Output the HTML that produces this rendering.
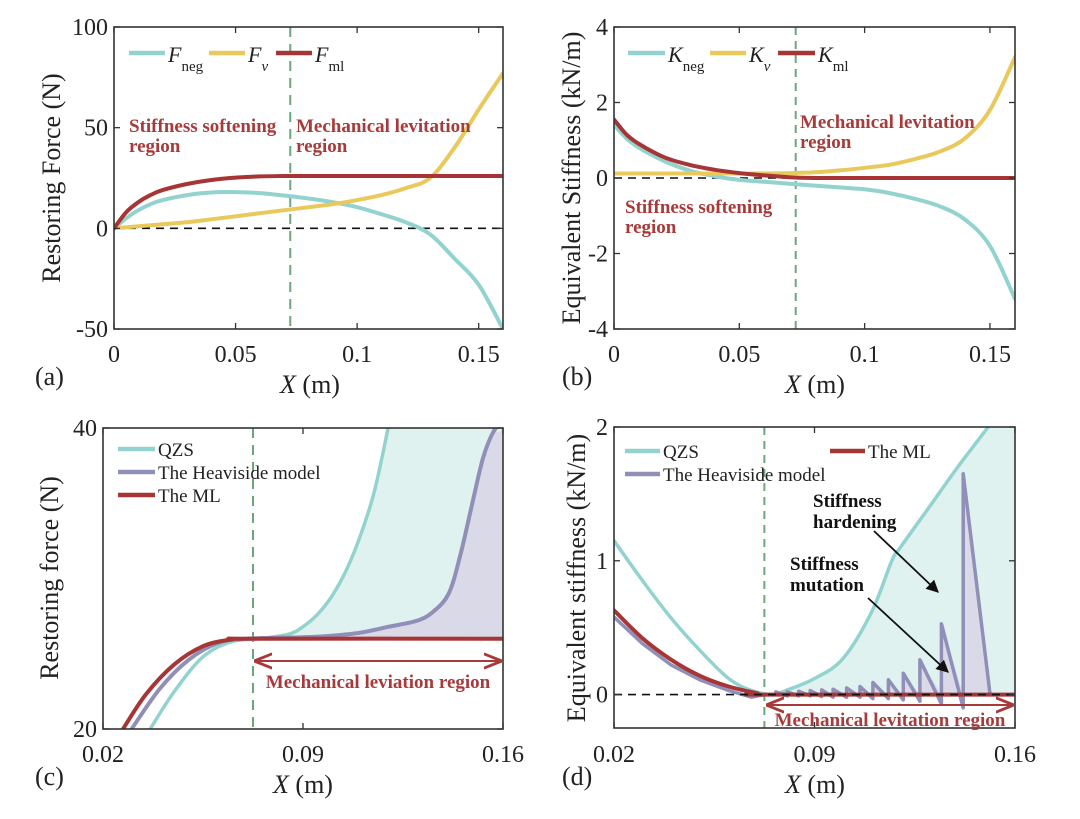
<!DOCTYPE html>
<html><head><meta charset="utf-8"><style>
html,body{margin:0;padding:0;background:#fff}
svg{display:block;font-family:"Liberation Serif",serif}
.t{font-size:24px;fill:#222}
.ti{font-size:26px;fill:#222}
.lg{font-size:19px;fill:#222}
.rg{font-size:19px;font-weight:bold;fill:#a83a3a}
.an{font-size:19px;font-weight:bold;fill:#111}
</style></head><body>
<svg id="fig" width="1080" height="819" viewBox="0 0 1080 819" xmlns="http://www.w3.org/2000/svg">
<defs>
<marker id="ah" viewBox="0 0 10 10" refX="9" refY="5" markerWidth="7" markerHeight="7" orient="auto-start-reverse"><path d="M0,0 L10,5 L0,10 z" fill="#111"/></marker>
<marker id="rh" viewBox="0 0 10 10" refX="9" refY="5" markerWidth="9" markerHeight="9" orient="auto-start-reverse"><path d="M0,1 L10,5 L0,9" fill="none" stroke="#a83a3a" stroke-width="1.6"/></marker>
</defs>
<g id="root"></g>
</svg>
<script>
// ---- panel (a) data ----
const aX    = [0,0.005,0.01,0.015,0.02,0.03,0.04,0.05,0.06,0.07,0.08,0.09,0.1,0.11,0.12,0.13,0.14,0.15,0.16];
const aFneg = [0,5,9,12,14,16.5,17.8,18,17.5,16.3,14.8,13,10.5,7,3,-3,-15,-28,-50];
const aFv   = [0,0.5,1,1.5,2,3,4.5,6,7.5,9,10.5,12,14,16.5,20,25,40,59,77];
const aFml  = [0,8,13,16.5,19,22,24,25.2,25.8,26,26,26,26,26,26,26,26,26,26];
// ---- panel (b) data ----
const bX    = [0,0.005,0.01,0.02,0.03,0.04,0.05,0.06,0.07,0.08,0.09,0.1,0.11,0.12,0.13,0.14,0.15,0.16];
const bKneg = [1.4,1.05,0.8,0.45,0.2,0.05,-0.05,-0.1,-0.15,-0.2,-0.25,-0.3,-0.4,-0.55,-0.75,-1.1,-1.8,-3.2];
const bKv   = [0.12,0.12,0.12,0.12,0.12,0.12,0.12,0.12,0.13,0.15,0.2,0.27,0.35,0.5,0.7,1.05,1.8,3.2];
const bKml  = [1.55,1.15,0.9,0.55,0.35,0.22,0.13,0.07,0.02,0,0,0,0,0,0,0,0,0];
// ---- panel (c) data ----
const cMLx = [0.027,0.035,0.045,0.055,0.065,0.0725,0.16];
const cMLy = [20,22.3,24.3,25.5,25.95,26,26];
const cHx  = [0.030,0.04,0.05,0.06,0.07,0.09,0.1,0.11,0.12,0.13,0.1356,0.141,0.145,0.1495,0.153,0.1565,0.16];
const cHy  = [20,22.7,24.6,25.7,26,26.1,26.2,26.4,26.8,27.2,27.8,29,31.5,35.2,38,39.7,40.5];
const cQx  = [0.0365,0.045,0.055,0.065,0.075,0.085,0.09,0.095,0.1,0.105,0.11,0.115,0.1198];
const cQy  = [20,22.5,24.8,25.8,26,26.3,26.8,27.6,28.8,30.5,32.8,35.8,40];
// ---- panel (d) data ----
const dQx  = [0.02,0.03,0.04,0.05,0.06,0.068,0.0755,0.08,0.09,0.1,0.11,0.117,0.12,0.13,0.14,0.1506,0.16];
const dQy  = [1.15,0.85,0.57,0.33,0.12,0.03,0,0.03,0.12,0.27,0.62,1.0,1.1,1.4,1.7,2.0,2.28];
const dMLx = [0.02,0.03,0.04,0.05,0.06,0.07,0.073,0.16];
const dMLy = [0.63,0.42,0.26,0.14,0.06,0.01,0,0];
const dHx  = [0.02,0.03,0.04,0.05,0.06,0.068,0.0725];
const dHy  = [0.58,0.38,0.22,0.11,0.03,-0.02,0];
const dJumpX  = [0.0765,0.0805,0.0845,0.0885,0.0925,0.0965,0.1012,0.1059,0.1104,0.1158,0.121,0.1268,0.1343,0.1419];
const dPeak   = [0.02,0.02,0.025,0.03,0.035,0.04,0.05,0.06,0.09,0.11,0.16,0.26,0.53,1.65];
const dTrough = [0,-0.01,-0.01,-0.01,-0.015,-0.02,-0.02,-0.02,-0.03,-0.03,-0.04,-0.05,-0.07,-0.1];
const dEndX = 0.1513;
// ---- ticks ----
const abXTicks = [0,0.05,0.1,0.15], abXLabels = ["0","0.05","0.1","0.15"];
const aYTicks = [-50,0,50,100], aYLabels = ["-50","0","50","100"];
const bYTicks = [-4,-2,0,2,4], bYLabels = ["-4","-2","0","2","4"];
const cdXTicks = [0.02,0.09,0.16], cdXLabels = ["0.02","0.09","0.16"];
const cYTicks = [20,40], cYLabels = ["20","40"];
const dYTicks = [0,1,2], dYLabels = ["0","1","2"];
const vLine = 0.0725;

const NS="http://www.w3.org/2000/svg";
const root=document.getElementById('root');
function mk(tag,attrs,parent,text){const e=document.createElementNS(NS,tag);for(const k in attrs)e.setAttribute(k,attrs[k]);if(text!==undefined)e.textContent=text;(parent||root).appendChild(e);return e;}
const C={cy:"#93d3cf",ye:"#e9c95c",rd:"#a83535",pu:"#8f8fb8",gr:"#6aa77c"};

function panel(id,L,R,T,B,xd,yd){
  const p={L,R,T,B,sx:v=>L+(v-xd[0])/(xd[1]-xd[0])*(R-L),sy:v=>B-(v-yd[0])/(yd[1]-yd[0])*(B-T)};
  p.g=mk('g',{});
  
  
  const cp=mk('clipPath',{id:'clip'+id},p.g);
  mk('rect',{x:L,y:T,width:R-L,height:B-T},cp);
  p.plot=mk('g',{'clip-path':'url(#clip'+id+')'},p.g);
  return p;
}
function pts(p,xs,ys){return xs.map((x,i)=>p.sx(x).toFixed(1)+','+p.sy(ys[i]).toFixed(1));}
function smoothPath(p,xs,ys){
  const P=xs.map((x,i)=>[p.sx(x),p.sy(ys[i])]);
  let d='M'+P[0][0].toFixed(1)+','+P[0][1].toFixed(1);
  for(let i=0;i<P.length-1;i++){
    const p0=P[Math.max(0,i-1)],p1=P[i],p2=P[i+1],p3=P[Math.min(P.length-1,i+2)];
    const c1=[p1[0]+(p2[0]-p0[0])/6,p1[1]+(p2[1]-p0[1])/6];
    const c2=[p2[0]-(p3[0]-p1[0])/6,p2[1]-(p3[1]-p1[1])/6];
    d+=` C${c1[0].toFixed(1)},${c1[1].toFixed(1)} ${c2[0].toFixed(1)},${c2[1].toFixed(1)} ${p2[0].toFixed(1)},${p2[1].toFixed(1)}`;
  }
  return d;
}
function line(p,xs,ys,col,name,w,straight){
  const e=straight?mk('polyline',{points:pts(p,xs,ys).join(' '),fill:'none',stroke:col,'stroke-width':w||4,'stroke-linejoin':'round','stroke-linecap':'round'},p.plot)
    :mk('path',{d:smoothPath(p,xs,ys),fill:'none',stroke:col,'stroke-width':w||4,'stroke-linejoin':'round','stroke-linecap':'round'},p.plot);
  
  return e;}
function frame(p,xt,xl,yt,yl,tickY){
  const g=mk('g',{},p.g);
  
  
  xt.forEach((v,i)=>{const x=p.sx(v);
    mk('line',{x1:x,y1:p.B,x2:x,y2:p.B-6,stroke:'#333','stroke-width':1.3},g);
    mk('line',{x1:x,y1:p.T,x2:x,y2:p.T+6,stroke:'#333','stroke-width':1.3},g);
    const t=mk('text',{x:x,y:tickY,'text-anchor':'middle',class:'t'},g,xl[i]);
    
    });
  yt.forEach((v,i)=>{const y=p.sy(v);
    mk('line',{x1:p.L,y1:y,x2:p.L+6,y2:y,stroke:'#333','stroke-width':1.3},g);
    mk('line',{x1:p.R,y1:y,x2:p.R-6,y2:y,stroke:'#333','stroke-width':1.3},g);
    const t=mk('text',{x:p.L-6,y:y+8,'text-anchor':'end',class:'t'},g,yl[i]);
    
    });
  mk('rect',{x:p.L,y:p.T,width:p.R-p.L,height:p.B-p.T,fill:'none',stroke:'#333','stroke-width':1.6},g);
}
function zero(p){mk('line',{x1:p.L,x2:p.R,y1:p.sy(0),y2:p.sy(0),stroke:'#111','stroke-width':1.6,'stroke-dasharray':'8,6'},p.plot);}
function vdash(p,dash){mk('line',{x1:p.sx(vLine),x2:p.sx(vLine),y1:p.T,y2:p.B,stroke:C.gr,'stroke-width':2,'stroke-dasharray':dash||'10,7'},p.plot);}
function txt(x,y,cls,s,name,anchor){const t=mk('text',{x:x,y:y,class:cls,'text-anchor':anchor||'start'},root,s);
  
  return t;}
function ytitle(x,y,s,name){const t=mk('text',{x:0,y:0,class:'ti','text-anchor':'middle',transform:`translate(${x},${y}) rotate(-90)`},root,s);
  
  }
function xtitle(x,y,name){const t=mk('text',{x:x,y:y,class:'ti','text-anchor':'middle'},root);
  
  
  mk('tspan',{'font-style':'italic'},t,'X');mk('tspan',{},t,' (m)');}
function legSym(x1,x2,y,col,name){const e=mk('line',{x1:x1,x2:x2,y1:y,y2:y,stroke:col,'stroke-width':4.5},root);
  
  }
function legMath(x,y,main,sub,name){const t=mk('text',{x:x,y:y,class:'lg'},root);
  
  
  mk('tspan',{'font-style':'italic','font-size':'22px'},t,main);
  mk('tspan',{dy:9,'font-size':'15px','font-style':sub==='v'?'italic':'normal'},t,sub);}

// ================= (a) =================
const pa=panel('a',114,503,27,329,[0,0.16],[-50,100]);
zero(pa); vdash(pa);
line(pa,aX,aFneg,C.cy,'series-fneg');
line(pa,aX,aFv,C.ye,'series-fv');
line(pa,aX,aFml,C.rd,'series-fml');
frame(pa,abXTicks,abXLabels,aYTicks,aYLabels,362);
legSym(129,165,53,C.cy,'legend-fneg-line');legMath(168,62,'F','neg','legend-fneg');
legSym(209,245,53,C.ye,'legend-fv-line');legMath(248,62,'F','v','legend-fv');
legSym(276,312,53,C.rd,'legend-fml-line');legMath(315,62,'F','ml','legend-fml');
txt(129,132,'rg','Stiffness softening','region-label-softening');txt(129,152,'rg','region','region-label-softening-2');
txt(296,132,'rg','Mechanical levitation','region-label-levitation');txt(296,152,'rg','region','region-label-levitation-2');
ytitle(60,178,'Restoring Force (N)','y-axis-title-a');xtitle(310,393,'x-axis-title-a');
txt(35,385,'ti','(a)','panel-label-a');

// ================= (b) =================
const pb=panel('b',614,1015,27,329,[0,0.16],[-4,4]);
zero(pb); vdash(pb,'8,6');
line(pb,bX,bKneg,C.cy,'series-kneg');
line(pb,bX,bKv,C.ye,'series-kv');
line(pb,bX,bKml,C.rd,'series-kml');
frame(pb,abXTicks,abXLabels,bYTicks,bYLabels,362);
legSym(628,665,53,C.cy,'legend-kneg-line');legMath(668,62,'K','neg','legend-kneg');
legSym(710,746,53,C.ye,'legend-kv-line');legMath(749,62,'K','v','legend-kv');
legSym(778,815,53,C.rd,'legend-kml-line');legMath(818,62,'K','ml','legend-kml');
txt(800,128,'rg','Mechanical levitation','region-label-levitation-b');txt(800,148,'rg','region','region-label-levitation-b2');
txt(625,213,'rg','Stiffness softening','region-label-softening-b');txt(625,233,'rg','region','region-label-softening-b2');
ytitle(580,178,'Equivalent Stiffness (kN/m)','y-axis-title-b');xtitle(815,393,'x-axis-title-b');
txt(562,385,'ti','(b)','panel-label-b');

// ================= (c) =================
const pc=panel('c',103,503,428,729,[0.02,0.16],[20,40]);
function fillBetween(p,xs,ys,baseY,col,name){
  const e=mk('path',{d:smoothPath(p,xs,ys)+' L'+p.sx(0.16)+','+p.sy(baseY)+' L'+p.sx(vLine)+','+p.sy(baseY)+' Z',fill:col,stroke:'none'},p.plot);
  
  }
(function(){const xs=[vLine],ys=[26];cQx.forEach((x,i)=>{if(x>vLine){xs.push(x);ys.push(cQy[i]);}});
  xs.push(0.125);ys.push(48);xs.push(0.16);ys.push(48);
  fillBetween(pc,xs,ys,26,'#e0f2f0','fill-qzs-c');
  const hx=[vLine],hy=[26];cHx.forEach((x,i)=>{if(x>vLine){hx.push(x);hy.push(cHy[i]);}});
  hx.push(0.1602);hy.push(48);
  fillBetween(pc,hx,hy,26,'#d9d9e7','fill-heaviside-c');})();
vdash(pc);
line(pc,cQx,cQy,C.cy,'series-qzs-c',3.5);
line(pc,cHx,cHy,C.pu,'series-heaviside-c');
line(pc,cMLx,cMLy,C.rd,'series-ml-c');
frame(pc,cdXTicks,cdXLabels,cYTicks,cYLabels,762);
legSym(118,155,449,C.cy,'legend-qzs-c-line');txt(158,456,'lg','QZS','legend-qzs-c');
legSym(118,155,472,C.pu,'legend-heaviside-c-line');txt(158,479,'lg','The Heaviside model','legend-heaviside-c');
legSym(118,155,495,C.rd,'legend-ml-c-line');txt(158,502,'lg','The ML','legend-ml-c');
(function(){const e=mk('line',{x1:256,x2:500,y1:661,y2:661,stroke:'#a83a3a','stroke-width':2,'marker-start':'url(#rh)','marker-end':'url(#rh)'});
  
  })();
txt(378,688,'rg','Mechanical leviation region','levitation-label-c','middle').setAttribute('font-size','17');
ytitle(58,578,'Restoring force (N)','y-axis-title-c');xtitle(303,793,'x-axis-title-c');
txt(35,785,'ti','(c)','panel-label-c');

// ================= (d) =================
const pd=panel('d',614,1015,427,728,[0.02,0.16],[-0.25,2]);
const dHallX=dHx.slice(),dHallY=dHy.slice();
dJumpX.forEach((x,i)=>{dHallX.push(x);dHallY.push(dTrough[i]);dHallX.push(x);dHallY.push(dPeak[i]);});
dHallX.push(dEndX);dHallY.push(0);dHallX.push(0.16);dHallY.push(0);
(function(){const xs=[],ys=[];dQx.forEach((x,i)=>{if(x>=vLine){xs.push(x);ys.push(dQy[i]);}});
  const e=mk('path',{d:smoothPath(pd,xs,ys)+' L'+pd.sx(0.16)+','+pd.sy(0)+' L'+pd.sx(xs[0])+','+pd.sy(0)+' Z',fill:'#e0f2f0'},pd.plot);
  
  
  const hx=[],hy=[];dHallX.forEach((x,i)=>{if(x>=vLine){hx.push(x);hy.push(Math.max(0,dHallY[i]));}});
  const f=mk('polygon',{points:pts(pd,hx,hy).join(' ')+' '+pd.sx(hx[0])+','+pd.sy(0),fill:'#d9d9e7'},pd.plot);
  
  })();
vdash(pd,'8,6');
line(pd,dQx,dQy,C.cy,'series-qzs-d',3.5);
line(pd,dHallX,dHallY,C.pu,'series-heaviside-d',3.5,true);
line(pd,dMLx,dMLy,C.rd,'series-ml-d');
zero(pd);
frame(pd,cdXTicks,cdXLabels,dYTicks,dYLabels,762);
legSym(625,660,451,C.cy,'legend-qzs-d-line');txt(663,458,'lg','QZS','legend-qzs-d');
legSym(830,865,451,C.rd,'legend-ml-d-line');txt(868,458,'lg','The ML','legend-ml-d');
legSym(625,660,474,C.pu,'legend-heaviside-d-line');txt(663,481,'lg','The Heaviside model','legend-heaviside-d');
txt(813,507,'an','Stiffness','annot-hardening');txt(813,528,'an','hardening','annot-hardening-2');
txt(790,570,'an','Stiffness','annot-mutation');txt(790,591,'an','mutation','annot-mutation-2');
(function(){let e=mk('line',{x1:874,y1:531,x2:938,y2:592,stroke:'#111','stroke-width':1.8,'marker-end':'url(#ah)'});
  
  
  e=mk('line',{x1:868,y1:598,x2:948,y2:672,stroke:'#111','stroke-width':1.8,'marker-end':'url(#ah)'});
  
  
  e=mk('line',{x1:768,x2:1012,y1:705,y2:705,stroke:'#a83a3a','stroke-width':2,'marker-start':'url(#rh)','marker-end':'url(#rh)'});
  
  })();
txt(890,726,'rg','Mechanical levitation region','levitation-label-d','middle').setAttribute('font-size','17');
ytitle(585,578,'Equivalent stiffness (kN/m)','y-axis-title-d');xtitle(815,793,'x-axis-title-d');
txt(562,785,'ti','(d)','panel-label-d');
</script>
</body></html>
